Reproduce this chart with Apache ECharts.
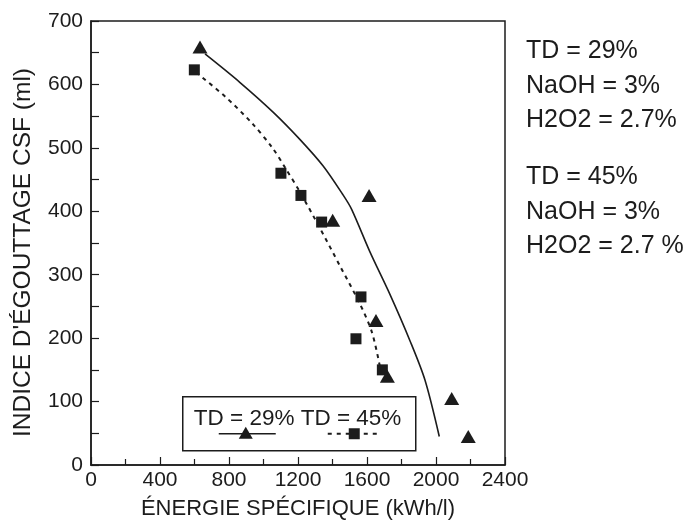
<!DOCTYPE html>
<html>
<head>
<meta charset="utf-8">
<script src="https://cdn.jsdelivr.net/npm/echarts@6/dist/echarts.min.js"></script>
<style>
  html, body { margin: 0; padding: 0; background: #fff; }
  #chart { width: 686px; height: 530px; }
</style>
</head>
<body>
<div id="chart"></div>
<script>
// Measured points, [energy kWh/l, CSF ml]
const td29Points = [[632, 659], [1401, 386], [1612, 425], [1652, 228], [1718, 140], [2091, 105], [2187, 45]];
const td45Points = [[599, 623], [1101, 460], [1217, 425], [1337, 383], [1536, 199], [1565, 265], [1689, 150]];

// Fitted trend curves
const td29Curve = [[661, 648], [864, 603], [1057, 556], [1212, 513], [1347, 471], [1463, 425], [1511, 403],
                   [1617, 336], [1733, 269], [1849, 196], [1936, 134], [2019, 45]];
const td45Curve = [[609, 619], [777, 581], [933, 539], [1049, 501], [1125, 469], [1212, 430], [1328, 373],
                   [1443, 314], [1559, 254], [1629, 209], [1675, 155]];

const xTicks = [0, 400, 800, 1200, 1600, 2000, 2400];
const yTicks = [0, 100, 200, 300, 400, 500, 600, 700];

const conditionLines = [
  ['TD = 29%', 'NaOH = 3%', 'H2O2 = 2.7%'],
  ['TD = 45%', 'NaOH = 3%', 'H2O2 = 2.7 %']
];

const ink = '#1c1c1c';
const font = '"Liberation Sans", Arial, Helvetica, sans-serif';

const chart = echarts.init(document.getElementById('chart'), null, { renderer: 'canvas' });

// Side notes with the treatment conditions
const sideText = [];
let ty = 52;
conditionLines.forEach(group => {
  group.forEach(line => {
    sideText.push({
      type: 'text', left: 526, top: ty - 13,
      style: { text: line, font: '25px ' + font, fill: ink }
    });
    ty += 34.5;
  });
  ty += 22.5;
});

const triPath = 'path://M0,-7L7,5L-7,5Z';

chart.setOption({
  animation: false,
  backgroundColor: '#fff',
  grid: {
    left: 91, right: 181, top: 21, bottom: 65,
    show: true, borderColor: ink, borderWidth: 1.5, backgroundColor: 'transparent'
  },
  xAxis: {
    type: 'value', min: xTicks[0], max: xTicks[xTicks.length - 1], interval: 400,
    name: 'ÉNERGIE SPÉCIFIQUE (kWh/l)', nameLocation: 'middle', nameGap: 33,
    nameTextStyle: { color: ink, fontSize: 22, fontFamily: font },
    axisLine: { show: true, onZero: false, lineStyle: { color: ink, width: 1.5 } },
    axisTick: { show: true, inside: true, length: 8, lineStyle: { color: ink, width: 1.2 } },
    minorTick: { show: true, splitNumber: 2, length: 6, lineStyle: { color: ink, width: 1.2 } },
    axisLabel: { color: ink, fontSize: 21, fontFamily: font, margin: 5, formatter: v => String(v) },
    splitLine: { show: false }
  },
  yAxis: {
    type: 'value', min: yTicks[0], max: yTicks[yTicks.length - 1], interval: 100,
    name: "INDICE D'ÉGOUTTAGE CSF (ml)", nameLocation: 'middle', nameGap: 55,
    nameTextStyle: { color: ink, fontSize: 24.5, fontFamily: font, padding: [0, 19, 0, 0] },
    axisLine: { show: true, onZero: false, lineStyle: { color: ink, width: 1.5 } },
    axisTick: { show: true, inside: true, length: 8, lineStyle: { color: ink, width: 1.2 } },
    minorTick: { show: true, splitNumber: 2, length: 8, lineStyle: { color: ink, width: 1.2 } },
    axisLabel: { color: ink, fontSize: 21, fontFamily: font, margin: 8, formatter: v => String(v) },
    splitLine: { show: false }
  },
  series: [
    {
      name: 'TD = 29% courbe', type: 'line', data: td29Curve, smooth: 0.3,
      showSymbol: false, lineStyle: { color: ink, width: 1.6, type: 'solid' }, z: 2
    },
    {
      name: 'TD = 45% courbe', type: 'line', data: td45Curve, smooth: 0.3,
      showSymbol: false, lineStyle: { color: ink, width: 2, type: [4, 4.5] }, z: 2
    },
    {
      name: 'TD = 29%', type: 'scatter', data: td29Points,
      symbol: triPath, symbolSize: [15, 13], itemStyle: { color: ink, opacity: 1 }, z: 3
    },
    {
      name: 'TD = 45%', type: 'scatter', data: td45Points,
      symbol: 'rect', symbolSize: 11, itemStyle: { color: ink, opacity: 1 }, z: 3
    }
  ],
  graphic: [
    // legend box
    {
      type: 'group', left: 182, top: 396,
      children: [
        { type: 'rect', shape: { x: 0, y: 0, width: 233, height: 54 },
          style: { fill: '#fff', stroke: ink, lineWidth: 1.5 } },
        { type: 'text', x: 11, y: 11,
          style: { text: 'TD = 29% TD = 45%', font: '22.5px ' + font, fill: ink } },
        { type: 'line', shape: { x1: 36, y1: 37, x2: 93, y2: 37 },
          style: { stroke: ink, lineWidth: 1.5 } },
        { type: 'polygon', shape: { points: [[63, 30], [70, 42], [56, 42]] },
          style: { fill: ink } },
        { type: 'line', shape: { x1: 145, y1: 37, x2: 198, y2: 37 },
          style: { stroke: ink, lineWidth: 2, lineDash: [4, 5] } },
        { type: 'rect', shape: { x: 166, y: 31.5, width: 11, height: 11 },
          style: { fill: ink } }
      ]
    }
  ].concat(sideText)
});
</script>
</body>
</html>
